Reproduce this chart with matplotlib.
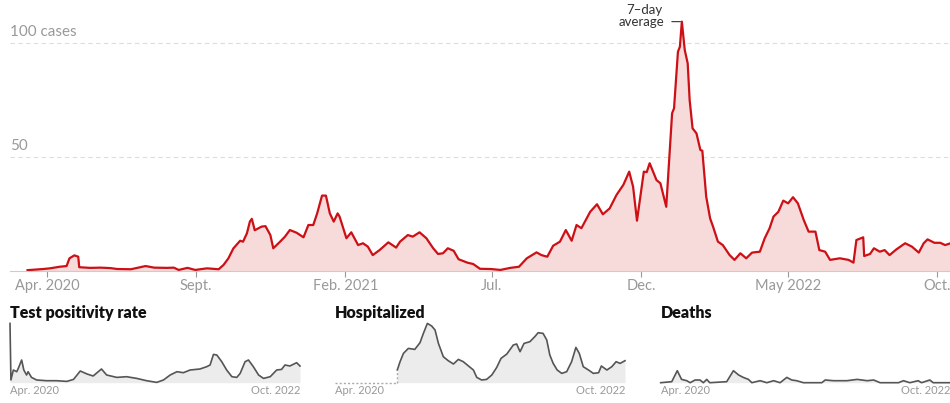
import matplotlib
matplotlib.use("Agg")
import matplotlib.pyplot as plt
import pandas as pd

plt.rcParams['font.family'] = ['Lato', 'DejaVu Sans']

# ---------------- data ----------------
case_dates = [
    "2020-03-12", "2020-03-28", "2020-04-04", "2020-04-14", "2020-04-21", "2020-04-24", "2020-04-29",
    "2020-05-03", "2020-05-04", "2020-05-15", "2020-05-26", "2020-06-05", "2020-06-12", "2020-06-26",
    "2020-07-11", "2020-07-20", "2020-08-02", "2020-08-09", "2020-08-14", "2020-08-23", "2020-08-31",
    "2020-09-12", "2020-09-24", "2020-09-29", "2020-10-04", "2020-10-09", "2020-10-16", "2020-10-19",
    "2020-10-23", "2020-10-26", "2020-10-28", "2020-10-31", "2020-11-07", "2020-11-11", "2020-11-16",
    "2020-11-19", "2020-11-26", "2020-12-01", "2020-12-06", "2020-12-13", "2020-12-20", "2020-12-25",
    "2020-12-30", "2021-01-03", "2021-01-08", "2021-01-12", "2021-01-16", "2021-01-20", "2021-01-24",
    "2021-01-26", "2021-02-02", "2021-02-07", "2021-02-14", "2021-02-19", "2021-02-24", "2021-03-01",
    "2021-03-08", "2021-03-17", "2021-03-25", "2021-03-29", "2021-04-06", "2021-04-11", "2021-04-18",
    "2021-04-25", "2021-05-02", "2021-05-07", "2021-05-12", "2021-05-17", "2021-05-23", "2021-05-28",
    "2021-06-06", "2021-06-12", "2021-06-19", "2021-06-30", "2021-07-10", "2021-07-20", "2021-07-29",
    "2021-08-06", "2021-08-16", "2021-08-21", "2021-08-27", "2021-09-02", "2021-09-09", "2021-09-15",
    "2021-09-21", "2021-09-26", "2021-10-01", "2021-10-10", "2021-10-17", "2021-10-23", "2021-10-30",
    "2021-11-06", "2021-11-13", "2021-11-19", "2021-11-23", "2021-11-27", "2021-12-04", "2021-12-07",
    "2021-12-10", "2021-12-17", "2021-12-21", "2021-12-27", "2022-01-02", "2022-01-04", "2022-01-08",
    "2022-01-10", "2022-01-12", "2022-01-15", "2022-01-18", "2022-01-20", "2022-01-23", "2022-01-27",
    "2022-01-31", "2022-02-02", "2022-02-06", "2022-02-10", "2022-02-13", "2022-02-18", "2022-02-23",
    "2022-03-02", "2022-03-07", "2022-03-13", "2022-03-19", "2022-03-25", "2022-04-02", "2022-04-07",
    "2022-04-12", "2022-04-16", "2022-04-21", "2022-04-26", "2022-05-01", "2022-05-06", "2022-05-11",
    "2022-05-17", "2022-05-22", "2022-05-29", "2022-06-02", "2022-06-08", "2022-06-13", "2022-06-23",
    "2022-07-02", "2022-07-07", "2022-07-10", "2022-07-17", "2022-07-18", "2022-07-24", "2022-07-28",
    "2022-08-03", "2022-08-08", "2022-08-13", "2022-08-20", "2022-08-29", "2022-09-05", "2022-09-12",
    "2022-09-17", "2022-09-21", "2022-09-28", "2022-10-04", "2022-10-09", "2022-10-16",
]
case_values = [
    0.5, 1.0, 1.3, 2.0, 2.3, 5.7, 7.0,
    6.4, 1.8, 1.5, 1.6, 1.4, 1.0, 0.9,
    2.3, 1.6, 1.5, 1.6, 0.6, 1.5, 0.6,
    1.3, 0.9, 2.8, 5.7, 10.0, 13.4, 13.0,
    16.7, 21.8, 23.0, 18.0, 19.6, 19.8, 15.9,
    10.1, 13.0, 15.2, 18.1, 16.9, 14.9, 20.3,
    20.3, 25.4, 33.2, 33.2, 25.4, 21.8, 25.4,
    24.0, 14.5, 17.1, 11.5, 12.3, 10.8, 7.1,
    9.3, 12.7, 10.4, 13.0, 15.9, 15.2, 17.1,
    14.5, 10.1, 7.6, 7.9, 10.1, 9.0, 5.3,
    3.8, 3.2, 1.1, 1.0, 0.6, 1.5, 2.0,
    5.7, 8.3, 7.1, 6.4, 11.2, 13.0, 18.1,
    13.4, 20.3, 18.9, 26.1, 29.4, 25.0, 27.6,
    33.5, 37.9, 43.7, 37.1, 22.2, 43.7, 43.5,
    47.4, 40.0, 38.6, 28.3, 69.3, 71.5, 96.3,
    98.5, 109.5, 97.0, 91.2, 75.1, 62.7, 60.5,
    53.2, 52.9, 32.7, 23.2, 19.6, 13.0, 11.5,
    7.1, 5.0, 7.9, 5.7, 8.2, 8.6, 14.5,
    18.9, 24.0, 26.1, 31.0, 29.8, 32.5, 29.8,
    22.5, 17.4, 17.4, 9.3, 8.6, 5.0, 5.7,
    5.0, 3.8, 13.7, 14.9, 6.7, 7.6, 10.1,
    8.6, 9.3, 7.1, 9.6, 12.3, 10.8, 8.2,
    12.3, 14.0, 12.5, 12.5, 11.5, 12.5,
]

tick_dates = ["2020-04-01", "2020-09-01", "2021-02-01", "2021-07-01",
              "2021-12-01", "2022-05-01", "2022-10-01"]
tick_labels = ["Apr. 2020", "Sept.", "Feb. 2021", "Jul.", "Dec.", "May 2022", "Oct."]
grid_values = [50, 100]
grid_labels = ["50", "100 cases"]

pos_dates = [
    "2020-03-12", "2020-03-15", "2020-03-23", "2020-04-03", "2020-04-08", "2020-04-19", "2020-04-26",
    "2020-05-05", "2020-05-10", "2020-05-21", "2020-06-07", "2020-07-09", "2020-08-11", "2020-09-13",
    "2020-10-05", "2020-10-27", "2020-11-18", "2020-12-08", "2021-01-04", "2021-01-21", "2021-02-23",
    "2021-03-27", "2021-04-29", "2021-05-31", "2021-07-03", "2021-07-25", "2021-08-16", "2021-09-07",
    "2021-09-28", "2021-10-20", "2021-11-21", "2021-12-13", "2021-12-24", "2022-01-04", "2022-01-15",
    "2022-01-31", "2022-02-16", "2022-03-05", "2022-03-21", "2022-04-01", "2022-04-17", "2022-04-28",
    "2022-05-14", "2022-05-31", "2022-06-16", "2022-07-08", "2022-07-29", "2022-08-14", "2022-08-25",
    "2022-09-10", "2022-10-02", "2022-10-13",
]
pos_values = [
    59.3, 2.7, 12.7, 11.0, 14.3, 22.7, 12.7,
    7.7, 11.0, 5.3, 2.7, 2.0, 2.0, 1.3,
    3.3, 11.7, 8.7, 6.7, 13.7, 7.7, 5.3,
    6.0, 4.3, 2.0, 0.3, 2.7, 7.7, 11.0,
    10.0, 12.7, 13.7, 16.0, 17.7, 28.3, 27.7,
    21.0, 12.7, 6.0, 5.3, 9.3, 21.0, 22.7,
    16.0, 7.7, 4.3, 6.0, 12.7, 13.3, 17.7,
    16.7, 20.0, 16.7,
]

hosp_dates = [
    "2020-10-01", "2020-10-10", "2020-10-21", "2020-11-06", "2020-11-27", "2020-12-14", "2020-12-25",
    "2021-01-07", "2021-01-21", "2021-02-01", "2021-02-12", "2021-02-28", "2021-03-16", "2021-04-02",
    "2021-04-18", "2021-05-04", "2021-05-21", "2021-06-06", "2021-06-17", "2021-07-03", "2021-07-19",
    "2021-08-05", "2021-08-21", "2021-09-04", "2021-09-23", "2021-10-14", "2021-10-25", "2021-11-05",
    "2021-11-18", "2021-12-07", "2021-12-23", "2022-01-03", "2022-01-19", "2022-01-31", "2022-02-10",
    "2022-02-21", "2022-03-06", "2022-03-21", "2022-04-06", "2022-04-22", "2022-05-06", "2022-05-17",
    "2022-05-30", "2022-06-16", "2022-07-02", "2022-07-19", "2022-07-28", "2022-08-15", "2022-08-31",
    "2022-09-14", "2022-09-27", "2022-10-13",
]
hosp_values = [
    12.7, 21.0, 29.3, 34.3, 33.3, 40.0, 49.3,
    59.3, 56.7, 52.7, 39.3, 26.0, 22.0, 18.7,
    23.3, 21.0, 16.7, 12.7, 5.3, 2.7, 3.3,
    7.7, 15.3, 24.3, 28.7, 37.7, 38.7, 31.0,
    39.3, 41.0, 46.0, 50.0, 49.3, 42.7, 27.7,
    19.3, 12.7, 9.3, 11.0, 21.0, 35.3, 29.3,
    16.0, 12.7, 9.3, 10.0, 16.7, 12.7, 16.0,
    21.0, 19.3, 22.0,
]
hosp_missing = ["2020-03-12", "2020-10-01"]

death_dates = [
    "2020-03-12", "2020-04-17", "2020-05-05", "2020-05-19", "2020-06-05", "2020-06-16", "2020-07-02",
    "2020-07-18", "2020-07-29", "2020-08-09", "2020-08-19", "2020-10-13", "2020-11-04", "2020-11-21",
    "2020-12-06", "2020-12-23", "2021-01-03", "2021-01-30", "2021-02-21", "2021-03-15", "2021-04-05",
    "2021-04-27", "2021-05-13", "2021-05-29", "2021-06-20", "2021-08-19", "2021-08-30", "2021-09-26",
    "2021-11-09", "2021-12-12", "2022-01-14", "2022-02-04", "2022-02-25", "2022-04-26", "2022-05-12",
    "2022-06-02", "2022-06-29", "2022-07-10", "2022-08-06", "2022-08-17", "2022-10-13",
]
death_values = [
    0, 1.0, 12.0, 3.3, 2.0, 0, 2.7,
    2.7, 0, 3.3, 0, 1.0, 12.0, 7.7,
    5.3, 3.3, 0, 2.0, 0, 2.0, 0,
    5.3, 2.7, 2.0, 0, 0, 2.7, 2.0,
    2.0, 3.3, 2.0, 2.7, 0, 0, 2.0,
    0, 2.0, 0, 2.7, 0, 0,
]

panel_titles = ["Test positivity rate", "Hospitalized", "Deaths"]
panel_start_label = "Apr. 2020"
panel_end_label = "Oct. 2022"

# ---------------- figure ----------------
W, H = 950, 403
fig = plt.figure(figsize=(W / 100, H / 100), dpi=100)

RED = "#cc1016"
FILL = "#f6dbda"
GRAY = "#999999"

def px_box(x0, y_top, x1, y_bottom):
    return [x0 / W, 1 - y_bottom / H, (x1 - x0) / W, (y_bottom - y_top) / H]

ymax = 112
base_y = 271.3
top_y = base_y - ymax * 2.28
ax = fig.add_axes(px_box(10, top_y, 950, base_y))

d = pd.to_datetime(case_dates)
ax.fill_between(d, 0, case_values, color=FILL, lw=0, zorder=1)
ax.plot(d, case_values, color=RED, lw=1.6, zorder=3, solid_joinstyle='round')
ax.set_xlim(pd.Timestamp("2020-02-23"), pd.Timestamp("2022-10-14"))
ax.set_ylim(0, ymax)

for gv, gl in zip(grid_values, grid_labels):
    ax.axhline(gv, color="#dddddd", lw=0.8, ls=(0, (4, 3)), zorder=0)
    ax.annotate(gl, xy=(0, gv), xycoords=ax.get_yaxis_transform(),
                xytext=(0, 4), textcoords='offset pixels',
                ha='left', va='bottom', color=GRAY, fontsize=11)

for s in ["top", "right", "left"]:
    ax.spines[s].set_visible(False)
ax.spines["bottom"].set_color("#cccccc")
ax.spines["bottom"].set_linewidth(0.8)
ax.set_yticks([])
ax.set_xticks(pd.to_datetime(tick_dates))
ax.set_xticklabels(tick_labels)
ax.tick_params(axis='x', length=4, width=0.8, color=GRAY, labelcolor=GRAY,
               labelsize=10.5, pad=1.5)

peak_i = max(range(len(case_values)), key=lambda i: case_values[i])
peak_d, peak_v = d[peak_i], case_values[peak_i]
ax.annotate("average", xy=(peak_d, peak_v), xytext=(-17, 0),
            textcoords='offset pixels', ha='right', va='center',
            fontsize=9.5, color="#333333",
            arrowprops=dict(arrowstyle='-', color="#333333", lw=0.8,
                            shrinkA=3, shrinkB=1))
ax.annotate("7\u2013day", xy=(peak_d, peak_v), xytext=(-19, 12),
            textcoords='offset pixels', ha='right', va='center',
            fontsize=9.5, color="#333333")

# ---------------- small panels ----------------
p_left = [10, 335, 660.7]
p_width = 290
p_base = 382.7
p_ymax = 62
series = [(pos_dates, pos_values), (hosp_dates, hosp_values), (death_dates, death_values)]
xr = (pd.Timestamp("2020-03-12"), pd.Timestamp("2022-10-13"))

for i, (title, (sd, sv)) in enumerate(zip(panel_titles, series)):
    pax = fig.add_axes(px_box(p_left[i], p_base - p_ymax, p_left[i] + p_width, p_base))
    sdt = pd.to_datetime(sd)
    pax.fill_between(sdt, 0, sv, color="#ececec", lw=0)
    pax.plot(sdt, sv, color="#555555", lw=1.2, solid_joinstyle='round', clip_on=False)
    if i == 1:
        md = pd.to_datetime(hosp_missing)
        pax.plot(md, [0, 0], color="#aaaaaa", lw=1.0, ls=(0, (1.5, 1.5)), clip_on=False)
        pax.plot([md[1], md[1]], [0, hosp_values[0]], color="#aaaaaa", lw=1.0,
                 ls=(0, (1.5, 1.5)), clip_on=False)
    pax.set_xlim(*xr)
    pax.set_ylim(0, p_ymax)
    pax.axis('off')
    fig.text(p_left[i] / W, 1 - 313 / H, title, ha='left', va='center',
             fontsize=11.5, fontweight='heavy', color="#111111")
    fig.text(p_left[i] / W, 1 - 391 / H, panel_start_label, ha='left', va='center',
             fontsize=8, color=GRAY)
    fig.text((p_left[i] + p_width) / W, 1 - 391 / H, panel_end_label, ha='right', va='center',
             fontsize=8, color=GRAY)

fig.savefig("out.png", dpi=100)
